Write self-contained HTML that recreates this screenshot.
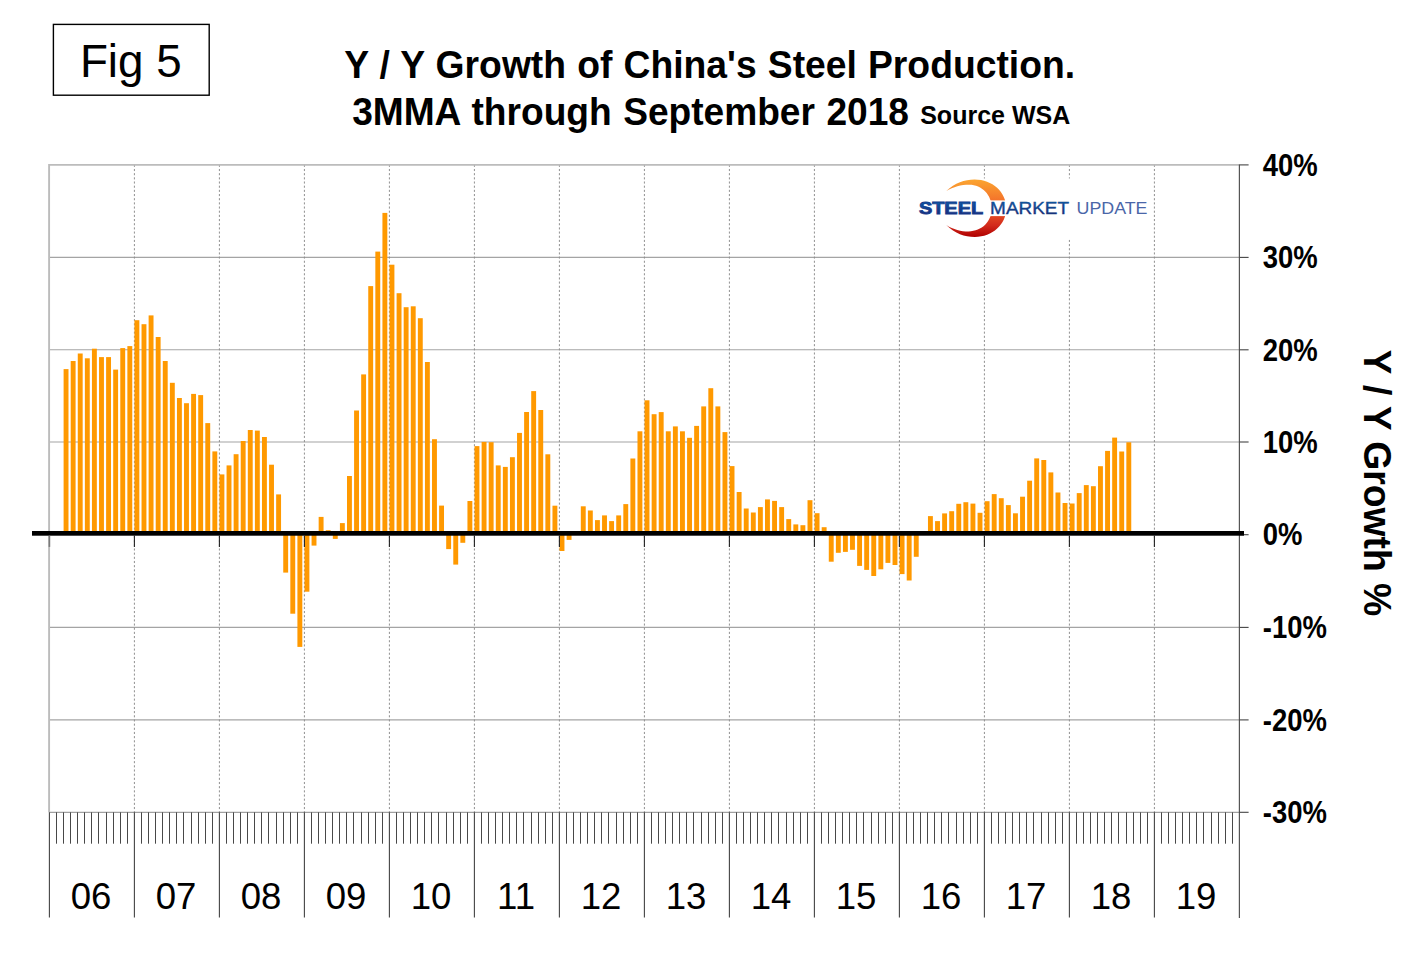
<!DOCTYPE html>
<html lang="en"><head><meta charset="utf-8"><title>Fig 5 - Y / Y Growth of China's Steel Production</title>
<style>html,body{margin:0;padding:0;background:#fff}svg{display:block}text{font-family:"Liberation Sans", Arial, sans-serif}</style></head><body>
<svg width="1420" height="973" viewBox="0 0 1420 973">
<defs><linearGradient id="sw" x1="0" y1="0" x2="0" y2="1"><stop offset="0" stop-color="#fba530"/><stop offset="0.45" stop-color="#f2672a"/><stop offset="0.8" stop-color="#d22a1c"/><stop offset="1" stop-color="#b00000"/></linearGradient>
<linearGradient id="tb" x1="0" y1="0" x2="0" y2="1"><stop offset="0" stop-color="#0a62b0"/><stop offset="1" stop-color="#1b1f6e"/></linearGradient></defs>
<rect width="1420" height="973" fill="#fff"/>
<g stroke="#a4a4a4" stroke-width="1.1">
<line x1="49.4" x2="1239.4" y1="257.40" y2="257.40"/>
<line x1="49.4" x2="1239.4" y1="349.80" y2="349.80"/>
<line x1="49.4" x2="1239.4" y1="442.00" y2="442.00"/>
<line x1="49.4" x2="1239.4" y1="627.40" y2="627.40"/>
<line x1="49.4" x2="1239.4" y1="719.90" y2="719.90"/>
</g>
<line x1="49.4" x2="1239.4" y1="812.30" y2="812.30" stroke="#a0a0a0" stroke-width="1.2"/>
<g stroke="#909090" stroke-width="1" stroke-dasharray="2.1 2.07">
<line x1="134.4" x2="134.4" y1="164.8" y2="812.3"/>
<line x1="219.4" x2="219.4" y1="164.8" y2="812.3"/>
<line x1="304.4" x2="304.4" y1="164.8" y2="812.3"/>
<line x1="389.4" x2="389.4" y1="164.8" y2="812.3"/>
<line x1="474.4" x2="474.4" y1="164.8" y2="812.3"/>
<line x1="559.4" x2="559.4" y1="164.8" y2="812.3"/>
<line x1="644.4" x2="644.4" y1="164.8" y2="812.3"/>
<line x1="729.4" x2="729.4" y1="164.8" y2="812.3"/>
<line x1="814.4" x2="814.4" y1="164.8" y2="812.3"/>
<line x1="899.4" x2="899.4" y1="164.8" y2="812.3"/>
<line x1="984.4" x2="984.4" y1="164.8" y2="812.3"/>
<line x1="1069.4" x2="1069.4" y1="164.8" y2="812.3"/>
<line x1="1154.4" x2="1154.4" y1="164.8" y2="812.3"/>
</g>
<path d="M49.1 812.3 V164.9 H1239.4" fill="none" stroke="#bcbcbc" stroke-width="1.9"/>
<g id="logo"><rect x="912" y="178.5" width="240" height="61" fill="#fff"/>
<path fill="url(#sw)" d="M946.3 191.1 C955 183 964.5 179.6 974.5 179.6 C992.5 179.6 1006.3 192.3 1006.3 208.2 C1006.3 224.2 992.5 236.9 974.8 236.9 C964.5 236.9 955 233.3 946.3 224.9 C953.5 229.6 961 231.4 968.6 231.4 C982 231.4 991.8 221.5 991.8 208.1 C991.8 194.8 982 184.7 969.2 184.7 C961 184.7 953.5 186.6 946.3 191.1 Z"/>
<rect x="940" y="200.4" width="70" height="15.7" fill="#fff"/>
<text x="918.9" y="214.3" font-size="16" font-weight="bold" fill="url(#tb)" stroke="#143c8c" stroke-width="0.8" textLength="64.2" lengthAdjust="spacingAndGlyphs">STEEL</text>
<text x="990.1" y="214.3" font-size="16" fill="url(#tb)" stroke="#16407f" stroke-width="0.35" textLength="79" lengthAdjust="spacingAndGlyphs">MARKET</text>
<text x="1076.5" y="214.3" font-size="16" fill="#4a66a8" textLength="71" lengthAdjust="spacingAndGlyphs">UPDATE</text></g>
<g fill="#ff9900">
<rect x="63.60" y="369.1" width="4.9" height="164.3"/>
<rect x="70.69" y="361.0" width="4.9" height="172.4"/>
<rect x="77.77" y="353.5" width="4.9" height="179.9"/>
<rect x="84.86" y="358.3" width="4.9" height="175.1"/>
<rect x="91.94" y="348.7" width="4.9" height="184.7"/>
<rect x="99.03" y="357.1" width="4.9" height="176.3"/>
<rect x="106.11" y="357.1" width="4.9" height="176.3"/>
<rect x="113.19" y="369.6" width="4.9" height="163.8"/>
<rect x="120.28" y="348.1" width="4.9" height="185.3"/>
<rect x="127.37" y="346.1" width="4.9" height="187.3"/>
<rect x="134.45" y="320.2" width="4.9" height="213.2"/>
<rect x="141.53" y="324.2" width="4.9" height="209.2"/>
<rect x="148.62" y="315.4" width="4.9" height="218.0"/>
<rect x="155.71" y="337.0" width="4.9" height="196.4"/>
<rect x="162.79" y="361.0" width="4.9" height="172.4"/>
<rect x="169.88" y="382.8" width="4.9" height="150.6"/>
<rect x="176.96" y="398.0" width="4.9" height="135.4"/>
<rect x="184.04" y="403.2" width="4.9" height="130.2"/>
<rect x="191.13" y="393.9" width="4.9" height="139.5"/>
<rect x="198.22" y="395.1" width="4.9" height="138.3"/>
<rect x="205.30" y="423.1" width="4.9" height="110.3"/>
<rect x="212.38" y="451.4" width="4.9" height="82.0"/>
<rect x="219.47" y="474.4" width="4.9" height="59.0"/>
<rect x="226.56" y="465.4" width="4.9" height="68.0"/>
<rect x="233.64" y="454.2" width="4.9" height="79.2"/>
<rect x="240.72" y="441.0" width="4.9" height="92.4"/>
<rect x="247.81" y="430.0" width="4.9" height="103.4"/>
<rect x="254.89" y="430.6" width="4.9" height="102.8"/>
<rect x="261.98" y="437.0" width="4.9" height="96.4"/>
<rect x="269.06" y="464.7" width="4.9" height="68.7"/>
<rect x="276.15" y="494.4" width="4.9" height="39.0"/>
<rect x="283.24" y="533.4" width="4.9" height="39.2"/>
<rect x="290.32" y="533.4" width="4.9" height="80.3"/>
<rect x="297.41" y="533.4" width="4.9" height="113.5"/>
<rect x="304.49" y="533.4" width="4.9" height="58.3"/>
<rect x="311.57" y="533.4" width="4.9" height="12.2"/>
<rect x="318.66" y="516.9" width="4.9" height="16.5"/>
<rect x="325.75" y="530.2" width="4.9" height="3.2"/>
<rect x="332.83" y="533.4" width="4.9" height="5.5"/>
<rect x="339.92" y="523.1" width="4.9" height="10.3"/>
<rect x="347.00" y="476.0" width="4.9" height="57.4"/>
<rect x="354.09" y="410.5" width="4.9" height="122.9"/>
<rect x="361.17" y="374.4" width="4.9" height="159.0"/>
<rect x="368.25" y="286.1" width="4.9" height="247.3"/>
<rect x="375.34" y="251.6" width="4.9" height="281.8"/>
<rect x="382.43" y="212.9" width="4.9" height="320.5"/>
<rect x="389.51" y="264.7" width="4.9" height="268.7"/>
<rect x="396.60" y="293.2" width="4.9" height="240.2"/>
<rect x="403.68" y="307.2" width="4.9" height="226.2"/>
<rect x="410.77" y="306.3" width="4.9" height="227.1"/>
<rect x="417.85" y="318.2" width="4.9" height="215.2"/>
<rect x="424.94" y="362.0" width="4.9" height="171.4"/>
<rect x="432.02" y="439.2" width="4.9" height="94.2"/>
<rect x="439.11" y="505.6" width="4.9" height="27.8"/>
<rect x="446.19" y="533.4" width="4.9" height="15.7"/>
<rect x="453.28" y="533.4" width="4.9" height="31.2"/>
<rect x="460.36" y="533.4" width="4.9" height="9.4"/>
<rect x="467.44" y="501.0" width="4.9" height="32.4"/>
<rect x="474.53" y="446.1" width="4.9" height="87.3"/>
<rect x="481.62" y="441.9" width="4.9" height="91.5"/>
<rect x="488.70" y="442.2" width="4.9" height="91.2"/>
<rect x="495.79" y="465.4" width="4.9" height="68.0"/>
<rect x="502.87" y="466.9" width="4.9" height="66.5"/>
<rect x="509.96" y="457.2" width="4.9" height="76.2"/>
<rect x="517.04" y="432.9" width="4.9" height="100.5"/>
<rect x="524.12" y="412.0" width="4.9" height="121.4"/>
<rect x="531.21" y="391.1" width="4.9" height="142.3"/>
<rect x="538.29" y="410.0" width="4.9" height="123.4"/>
<rect x="545.38" y="454.3" width="4.9" height="79.1"/>
<rect x="552.47" y="505.7" width="4.9" height="27.7"/>
<rect x="559.55" y="533.4" width="4.9" height="17.6"/>
<rect x="566.63" y="533.4" width="4.9" height="6.5"/>
<rect x="580.81" y="506.3" width="4.9" height="27.1"/>
<rect x="587.89" y="510.5" width="4.9" height="22.9"/>
<rect x="594.98" y="520.1" width="4.9" height="13.3"/>
<rect x="602.06" y="515.4" width="4.9" height="18.0"/>
<rect x="609.14" y="521.1" width="4.9" height="12.3"/>
<rect x="616.23" y="515.4" width="4.9" height="18.0"/>
<rect x="623.32" y="504.1" width="4.9" height="29.3"/>
<rect x="630.40" y="458.5" width="4.9" height="74.9"/>
<rect x="637.49" y="431.3" width="4.9" height="102.1"/>
<rect x="644.57" y="400.3" width="4.9" height="133.1"/>
<rect x="651.65" y="414.2" width="4.9" height="119.2"/>
<rect x="658.74" y="412.1" width="4.9" height="121.3"/>
<rect x="665.83" y="431.3" width="4.9" height="102.1"/>
<rect x="672.91" y="426.4" width="4.9" height="107.0"/>
<rect x="680.00" y="431.3" width="4.9" height="102.1"/>
<rect x="687.08" y="437.8" width="4.9" height="95.6"/>
<rect x="694.16" y="425.9" width="4.9" height="107.5"/>
<rect x="701.25" y="406.4" width="4.9" height="127.0"/>
<rect x="708.34" y="388.2" width="4.9" height="145.2"/>
<rect x="715.42" y="406.4" width="4.9" height="127.0"/>
<rect x="722.50" y="432.1" width="4.9" height="101.3"/>
<rect x="729.59" y="466.1" width="4.9" height="67.3"/>
<rect x="736.68" y="492.0" width="4.9" height="41.4"/>
<rect x="743.76" y="508.5" width="4.9" height="24.9"/>
<rect x="750.85" y="512.5" width="4.9" height="20.9"/>
<rect x="757.93" y="507.1" width="4.9" height="26.3"/>
<rect x="765.01" y="499.4" width="4.9" height="34.0"/>
<rect x="772.10" y="500.9" width="4.9" height="32.5"/>
<rect x="779.19" y="507.1" width="4.9" height="26.3"/>
<rect x="786.27" y="519.1" width="4.9" height="14.3"/>
<rect x="793.36" y="524.4" width="4.9" height="9.0"/>
<rect x="800.44" y="525.2" width="4.9" height="8.2"/>
<rect x="807.52" y="500.2" width="4.9" height="33.2"/>
<rect x="814.61" y="513.2" width="4.9" height="20.2"/>
<rect x="821.70" y="527.2" width="4.9" height="6.2"/>
<rect x="828.78" y="533.4" width="4.9" height="28.3"/>
<rect x="835.87" y="533.4" width="4.9" height="19.4"/>
<rect x="842.95" y="533.4" width="4.9" height="18.5"/>
<rect x="850.03" y="533.4" width="4.9" height="16.4"/>
<rect x="857.12" y="533.4" width="4.9" height="32.5"/>
<rect x="864.21" y="533.4" width="4.9" height="36.5"/>
<rect x="871.29" y="533.4" width="4.9" height="42.6"/>
<rect x="878.38" y="533.4" width="4.9" height="35.9"/>
<rect x="885.46" y="533.4" width="4.9" height="29.5"/>
<rect x="892.55" y="533.4" width="4.9" height="31.6"/>
<rect x="899.63" y="533.4" width="4.9" height="40.7"/>
<rect x="906.72" y="533.4" width="4.9" height="47.1"/>
<rect x="913.80" y="533.4" width="4.9" height="23.4"/>
<rect x="927.97" y="516.1" width="4.9" height="17.2"/>
<rect x="935.06" y="521.1" width="4.9" height="12.3"/>
<rect x="942.14" y="513.4" width="4.9" height="20.0"/>
<rect x="949.23" y="511.2" width="4.9" height="22.2"/>
<rect x="956.31" y="503.8" width="4.9" height="29.6"/>
<rect x="963.39" y="502.2" width="4.9" height="31.2"/>
<rect x="970.48" y="503.6" width="4.9" height="29.8"/>
<rect x="977.57" y="512.8" width="4.9" height="20.6"/>
<rect x="984.65" y="501.2" width="4.9" height="32.2"/>
<rect x="991.74" y="494.1" width="4.9" height="39.3"/>
<rect x="998.82" y="498.2" width="4.9" height="35.2"/>
<rect x="1005.90" y="505.1" width="4.9" height="28.3"/>
<rect x="1012.99" y="513.3" width="4.9" height="20.1"/>
<rect x="1020.08" y="496.7" width="4.9" height="36.7"/>
<rect x="1027.16" y="480.7" width="4.9" height="52.7"/>
<rect x="1034.24" y="458.4" width="4.9" height="75.0"/>
<rect x="1041.33" y="460.0" width="4.9" height="73.4"/>
<rect x="1048.41" y="472.4" width="4.9" height="61.0"/>
<rect x="1055.50" y="492.5" width="4.9" height="40.9"/>
<rect x="1062.59" y="503.0" width="4.9" height="30.4"/>
<rect x="1069.67" y="503.5" width="4.9" height="29.9"/>
<rect x="1076.75" y="493.1" width="4.9" height="40.3"/>
<rect x="1083.84" y="485.1" width="4.9" height="48.3"/>
<rect x="1090.92" y="486.2" width="4.9" height="47.2"/>
<rect x="1098.01" y="466.2" width="4.9" height="67.2"/>
<rect x="1105.09" y="450.9" width="4.9" height="82.5"/>
<rect x="1112.18" y="437.6" width="4.9" height="95.8"/>
<rect x="1119.26" y="451.5" width="4.9" height="81.9"/>
<rect x="1126.35" y="442.3" width="4.9" height="91.1"/>
</g>
<line x1="1239.4" x2="1239.4" y1="164.4" y2="918" stroke="#555" stroke-width="1.2"/>
<g stroke="#444" stroke-width="1.1">
<line x1="1239.4" x2="1248.6" y1="164.90" y2="164.90"/>
<line x1="1239.4" x2="1248.6" y1="257.40" y2="257.40"/>
<line x1="1239.4" x2="1248.6" y1="349.80" y2="349.80"/>
<line x1="1239.4" x2="1248.6" y1="442.00" y2="442.00"/>
<line x1="1239.4" x2="1248.6" y1="534.70" y2="534.70"/>
<line x1="1239.4" x2="1248.6" y1="627.40" y2="627.40"/>
<line x1="1239.4" x2="1248.6" y1="719.90" y2="719.90"/>
<line x1="1239.4" x2="1248.6" y1="812.30" y2="812.30"/>
</g>
<g stroke="#484848" stroke-width="1">
<line x1="56.5" x2="56.5" y1="812.3" y2="843.7"/>
<line x1="63.5" x2="63.5" y1="812.3" y2="843.7"/>
<line x1="70.5" x2="70.5" y1="812.3" y2="843.7"/>
<line x1="77.5" x2="77.5" y1="812.3" y2="843.7"/>
<line x1="84.5" x2="84.5" y1="812.3" y2="843.7"/>
<line x1="91.5" x2="91.5" y1="812.3" y2="843.7"/>
<line x1="98.5" x2="98.5" y1="812.3" y2="843.7"/>
<line x1="106.5" x2="106.5" y1="812.3" y2="843.7"/>
<line x1="113.5" x2="113.5" y1="812.3" y2="843.7"/>
<line x1="120.5" x2="120.5" y1="812.3" y2="843.7"/>
<line x1="127.5" x2="127.5" y1="812.3" y2="843.7"/>
<line x1="141.5" x2="141.5" y1="812.3" y2="843.7"/>
<line x1="148.5" x2="148.5" y1="812.3" y2="843.7"/>
<line x1="155.5" x2="155.5" y1="812.3" y2="843.7"/>
<line x1="162.5" x2="162.5" y1="812.3" y2="843.7"/>
<line x1="169.5" x2="169.5" y1="812.3" y2="843.7"/>
<line x1="176.5" x2="176.5" y1="812.3" y2="843.7"/>
<line x1="183.5" x2="183.5" y1="812.3" y2="843.7"/>
<line x1="191.5" x2="191.5" y1="812.3" y2="843.7"/>
<line x1="198.5" x2="198.5" y1="812.3" y2="843.7"/>
<line x1="205.5" x2="205.5" y1="812.3" y2="843.7"/>
<line x1="212.5" x2="212.5" y1="812.3" y2="843.7"/>
<line x1="226.5" x2="226.5" y1="812.3" y2="843.7"/>
<line x1="233.5" x2="233.5" y1="812.3" y2="843.7"/>
<line x1="240.5" x2="240.5" y1="812.3" y2="843.7"/>
<line x1="247.5" x2="247.5" y1="812.3" y2="843.7"/>
<line x1="254.5" x2="254.5" y1="812.3" y2="843.7"/>
<line x1="261.5" x2="261.5" y1="812.3" y2="843.7"/>
<line x1="268.5" x2="268.5" y1="812.3" y2="843.7"/>
<line x1="276.5" x2="276.5" y1="812.3" y2="843.7"/>
<line x1="283.5" x2="283.5" y1="812.3" y2="843.7"/>
<line x1="290.5" x2="290.5" y1="812.3" y2="843.7"/>
<line x1="297.5" x2="297.5" y1="812.3" y2="843.7"/>
<line x1="311.5" x2="311.5" y1="812.3" y2="843.7"/>
<line x1="318.5" x2="318.5" y1="812.3" y2="843.7"/>
<line x1="325.5" x2="325.5" y1="812.3" y2="843.7"/>
<line x1="332.5" x2="332.5" y1="812.3" y2="843.7"/>
<line x1="339.5" x2="339.5" y1="812.3" y2="843.7"/>
<line x1="346.5" x2="346.5" y1="812.3" y2="843.7"/>
<line x1="353.5" x2="353.5" y1="812.3" y2="843.7"/>
<line x1="361.5" x2="361.5" y1="812.3" y2="843.7"/>
<line x1="368.5" x2="368.5" y1="812.3" y2="843.7"/>
<line x1="375.5" x2="375.5" y1="812.3" y2="843.7"/>
<line x1="382.5" x2="382.5" y1="812.3" y2="843.7"/>
<line x1="396.5" x2="396.5" y1="812.3" y2="843.7"/>
<line x1="403.5" x2="403.5" y1="812.3" y2="843.7"/>
<line x1="410.5" x2="410.5" y1="812.3" y2="843.7"/>
<line x1="417.5" x2="417.5" y1="812.3" y2="843.7"/>
<line x1="424.5" x2="424.5" y1="812.3" y2="843.7"/>
<line x1="431.5" x2="431.5" y1="812.3" y2="843.7"/>
<line x1="438.5" x2="438.5" y1="812.3" y2="843.7"/>
<line x1="446.5" x2="446.5" y1="812.3" y2="843.7"/>
<line x1="453.5" x2="453.5" y1="812.3" y2="843.7"/>
<line x1="460.5" x2="460.5" y1="812.3" y2="843.7"/>
<line x1="467.5" x2="467.5" y1="812.3" y2="843.7"/>
<line x1="481.5" x2="481.5" y1="812.3" y2="843.7"/>
<line x1="488.5" x2="488.5" y1="812.3" y2="843.7"/>
<line x1="495.5" x2="495.5" y1="812.3" y2="843.7"/>
<line x1="502.5" x2="502.5" y1="812.3" y2="843.7"/>
<line x1="509.5" x2="509.5" y1="812.3" y2="843.7"/>
<line x1="516.5" x2="516.5" y1="812.3" y2="843.7"/>
<line x1="523.5" x2="523.5" y1="812.3" y2="843.7"/>
<line x1="531.5" x2="531.5" y1="812.3" y2="843.7"/>
<line x1="538.5" x2="538.5" y1="812.3" y2="843.7"/>
<line x1="545.5" x2="545.5" y1="812.3" y2="843.7"/>
<line x1="552.5" x2="552.5" y1="812.3" y2="843.7"/>
<line x1="566.5" x2="566.5" y1="812.3" y2="843.7"/>
<line x1="573.5" x2="573.5" y1="812.3" y2="843.7"/>
<line x1="580.5" x2="580.5" y1="812.3" y2="843.7"/>
<line x1="587.5" x2="587.5" y1="812.3" y2="843.7"/>
<line x1="594.5" x2="594.5" y1="812.3" y2="843.7"/>
<line x1="601.5" x2="601.5" y1="812.3" y2="843.7"/>
<line x1="608.5" x2="608.5" y1="812.3" y2="843.7"/>
<line x1="616.5" x2="616.5" y1="812.3" y2="843.7"/>
<line x1="623.5" x2="623.5" y1="812.3" y2="843.7"/>
<line x1="630.5" x2="630.5" y1="812.3" y2="843.7"/>
<line x1="637.5" x2="637.5" y1="812.3" y2="843.7"/>
<line x1="651.5" x2="651.5" y1="812.3" y2="843.7"/>
<line x1="658.5" x2="658.5" y1="812.3" y2="843.7"/>
<line x1="665.5" x2="665.5" y1="812.3" y2="843.7"/>
<line x1="672.5" x2="672.5" y1="812.3" y2="843.7"/>
<line x1="679.5" x2="679.5" y1="812.3" y2="843.7"/>
<line x1="686.5" x2="686.5" y1="812.3" y2="843.7"/>
<line x1="693.5" x2="693.5" y1="812.3" y2="843.7"/>
<line x1="701.5" x2="701.5" y1="812.3" y2="843.7"/>
<line x1="708.5" x2="708.5" y1="812.3" y2="843.7"/>
<line x1="715.5" x2="715.5" y1="812.3" y2="843.7"/>
<line x1="722.5" x2="722.5" y1="812.3" y2="843.7"/>
<line x1="736.5" x2="736.5" y1="812.3" y2="843.7"/>
<line x1="743.5" x2="743.5" y1="812.3" y2="843.7"/>
<line x1="750.5" x2="750.5" y1="812.3" y2="843.7"/>
<line x1="757.5" x2="757.5" y1="812.3" y2="843.7"/>
<line x1="764.5" x2="764.5" y1="812.3" y2="843.7"/>
<line x1="771.5" x2="771.5" y1="812.3" y2="843.7"/>
<line x1="778.5" x2="778.5" y1="812.3" y2="843.7"/>
<line x1="786.5" x2="786.5" y1="812.3" y2="843.7"/>
<line x1="793.5" x2="793.5" y1="812.3" y2="843.7"/>
<line x1="800.5" x2="800.5" y1="812.3" y2="843.7"/>
<line x1="807.5" x2="807.5" y1="812.3" y2="843.7"/>
<line x1="821.5" x2="821.5" y1="812.3" y2="843.7"/>
<line x1="828.5" x2="828.5" y1="812.3" y2="843.7"/>
<line x1="835.5" x2="835.5" y1="812.3" y2="843.7"/>
<line x1="842.5" x2="842.5" y1="812.3" y2="843.7"/>
<line x1="849.5" x2="849.5" y1="812.3" y2="843.7"/>
<line x1="856.5" x2="856.5" y1="812.3" y2="843.7"/>
<line x1="863.5" x2="863.5" y1="812.3" y2="843.7"/>
<line x1="871.5" x2="871.5" y1="812.3" y2="843.7"/>
<line x1="878.5" x2="878.5" y1="812.3" y2="843.7"/>
<line x1="885.5" x2="885.5" y1="812.3" y2="843.7"/>
<line x1="892.5" x2="892.5" y1="812.3" y2="843.7"/>
<line x1="906.5" x2="906.5" y1="812.3" y2="843.7"/>
<line x1="913.5" x2="913.5" y1="812.3" y2="843.7"/>
<line x1="920.5" x2="920.5" y1="812.3" y2="843.7"/>
<line x1="927.5" x2="927.5" y1="812.3" y2="843.7"/>
<line x1="934.5" x2="934.5" y1="812.3" y2="843.7"/>
<line x1="941.5" x2="941.5" y1="812.3" y2="843.7"/>
<line x1="948.5" x2="948.5" y1="812.3" y2="843.7"/>
<line x1="956.5" x2="956.5" y1="812.3" y2="843.7"/>
<line x1="963.5" x2="963.5" y1="812.3" y2="843.7"/>
<line x1="970.5" x2="970.5" y1="812.3" y2="843.7"/>
<line x1="977.5" x2="977.5" y1="812.3" y2="843.7"/>
<line x1="991.5" x2="991.5" y1="812.3" y2="843.7"/>
<line x1="998.5" x2="998.5" y1="812.3" y2="843.7"/>
<line x1="1005.5" x2="1005.5" y1="812.3" y2="843.7"/>
<line x1="1012.5" x2="1012.5" y1="812.3" y2="843.7"/>
<line x1="1019.5" x2="1019.5" y1="812.3" y2="843.7"/>
<line x1="1026.5" x2="1026.5" y1="812.3" y2="843.7"/>
<line x1="1033.5" x2="1033.5" y1="812.3" y2="843.7"/>
<line x1="1041.5" x2="1041.5" y1="812.3" y2="843.7"/>
<line x1="1048.5" x2="1048.5" y1="812.3" y2="843.7"/>
<line x1="1055.5" x2="1055.5" y1="812.3" y2="843.7"/>
<line x1="1062.5" x2="1062.5" y1="812.3" y2="843.7"/>
<line x1="1076.5" x2="1076.5" y1="812.3" y2="843.7"/>
<line x1="1083.5" x2="1083.5" y1="812.3" y2="843.7"/>
<line x1="1090.5" x2="1090.5" y1="812.3" y2="843.7"/>
<line x1="1097.5" x2="1097.5" y1="812.3" y2="843.7"/>
<line x1="1104.5" x2="1104.5" y1="812.3" y2="843.7"/>
<line x1="1111.5" x2="1111.5" y1="812.3" y2="843.7"/>
<line x1="1118.5" x2="1118.5" y1="812.3" y2="843.7"/>
<line x1="1126.5" x2="1126.5" y1="812.3" y2="843.7"/>
<line x1="1133.5" x2="1133.5" y1="812.3" y2="843.7"/>
<line x1="1140.5" x2="1140.5" y1="812.3" y2="843.7"/>
<line x1="1147.5" x2="1147.5" y1="812.3" y2="843.7"/>
<line x1="1161.5" x2="1161.5" y1="812.3" y2="843.7"/>
<line x1="1168.5" x2="1168.5" y1="812.3" y2="843.7"/>
<line x1="1175.5" x2="1175.5" y1="812.3" y2="843.7"/>
<line x1="1182.5" x2="1182.5" y1="812.3" y2="843.7"/>
<line x1="1189.5" x2="1189.5" y1="812.3" y2="843.7"/>
<line x1="1196.5" x2="1196.5" y1="812.3" y2="843.7"/>
<line x1="1203.5" x2="1203.5" y1="812.3" y2="843.7"/>
<line x1="1211.5" x2="1211.5" y1="812.3" y2="843.7"/>
<line x1="1218.5" x2="1218.5" y1="812.3" y2="843.7"/>
<line x1="1225.5" x2="1225.5" y1="812.3" y2="843.7"/>
<line x1="1232.5" x2="1232.5" y1="812.3" y2="843.7"/>
</g>
<g stroke="#444" stroke-width="1.1">
<line x1="49.4" x2="49.4" y1="812.3" y2="917.5"/>
<line x1="134.4" x2="134.4" y1="812.3" y2="917.5"/>
<line x1="219.4" x2="219.4" y1="812.3" y2="917.5"/>
<line x1="304.4" x2="304.4" y1="812.3" y2="917.5"/>
<line x1="389.4" x2="389.4" y1="812.3" y2="917.5"/>
<line x1="474.4" x2="474.4" y1="812.3" y2="917.5"/>
<line x1="559.4" x2="559.4" y1="812.3" y2="917.5"/>
<line x1="644.4" x2="644.4" y1="812.3" y2="917.5"/>
<line x1="729.4" x2="729.4" y1="812.3" y2="917.5"/>
<line x1="814.4" x2="814.4" y1="812.3" y2="917.5"/>
<line x1="899.4" x2="899.4" y1="812.3" y2="917.5"/>
<line x1="984.4" x2="984.4" y1="812.3" y2="917.5"/>
<line x1="1069.4" x2="1069.4" y1="812.3" y2="917.5"/>
<line x1="1154.4" x2="1154.4" y1="812.3" y2="917.5"/>
</g>
<rect x="32" y="531" width="1212" height="4.7" fill="#000"/>
<g stroke="#222" stroke-width="1.1">
<line x1="49.4" x2="49.4" y1="535.5" y2="546.9" stroke="#7a7a7a" stroke-width="1.6"/>
<line x1="134.4" x2="134.4" y1="535.5" y2="546.9"/>
<line x1="219.4" x2="219.4" y1="535.5" y2="546.9"/>
<line x1="304.4" x2="304.4" y1="535.5" y2="546.9"/>
<line x1="389.4" x2="389.4" y1="535.5" y2="546.9"/>
<line x1="474.4" x2="474.4" y1="535.5" y2="546.9"/>
<line x1="559.4" x2="559.4" y1="535.5" y2="546.9"/>
<line x1="644.4" x2="644.4" y1="535.5" y2="546.9"/>
<line x1="729.4" x2="729.4" y1="535.5" y2="546.9"/>
<line x1="814.4" x2="814.4" y1="535.5" y2="546.9"/>
<line x1="899.4" x2="899.4" y1="535.5" y2="546.9"/>
<line x1="984.4" x2="984.4" y1="535.5" y2="546.9"/>
<line x1="1069.4" x2="1069.4" y1="535.5" y2="546.9"/>
<line x1="1154.4" x2="1154.4" y1="535.5" y2="546.9"/>
</g>
<g font-size="31.2" font-weight="bold" fill="#000">
<text transform="translate(1262.8 175.6) scale(0.88 1)">40%</text>
<text transform="translate(1262.8 268.1) scale(0.88 1)">30%</text>
<text transform="translate(1262.8 360.5) scale(0.88 1)">20%</text>
<text transform="translate(1262.8 452.7) scale(0.88 1)">10%</text>
<text transform="translate(1262.8 545.4) scale(0.88 1)">0%</text>
<text transform="translate(1262.8 638.1) scale(0.88 1)">-10%</text>
<text transform="translate(1262.8 730.6) scale(0.88 1)">-20%</text>
<text transform="translate(1262.8 823.0) scale(0.88 1)">-30%</text>
</g>
<g font-size="36.6" fill="#000" text-anchor="middle">
<text x="91.1" y="909">06</text>
<text x="176.1" y="909">07</text>
<text x="261.1" y="909">08</text>
<text x="346.1" y="909">09</text>
<text x="431.1" y="909">10</text>
<text x="516.1" y="909">11</text>
<text x="601.1" y="909">12</text>
<text x="686.1" y="909">13</text>
<text x="771.1" y="909">14</text>
<text x="856.1" y="909">15</text>
<text x="941.1" y="909">16</text>
<text x="1026.1" y="909">17</text>
<text x="1111.1" y="909">18</text>
<text x="1196.1" y="909">19</text>
</g>
<g transform="translate(1364.2 349.6) rotate(90) scale(0.972 1)"><text x="0" y="0" font-size="38.4" font-weight="bold" fill="#000" word-spacing="0.8">Y / Y Growth %</text></g>
<g transform="translate(709.6 77.9) scale(0.98145 1)"><text x="0" y="0" text-anchor="middle" font-size="38" font-weight="bold" fill="#000" word-spacing="0.8">Y / Y Growth of China's Steel Production.</text></g>
<g transform="translate(353.3 124.5) scale(0.97716 1)"><text x="-1.2" y="0" font-size="38" font-weight="bold" fill="#000" word-spacing="1.2">3MMA through September 2018</text></g>
<text x="920.2" y="124.4" font-size="25" font-weight="bold" fill="#000">Source WSA</text>
<rect x="53.4" y="24.4" width="155.8" height="70.8" fill="#fff" stroke="#000" stroke-width="1.4"/>
<text x="130.8" y="76.9" text-anchor="middle" font-size="45.8" fill="#000">Fig 5</text>
</svg></body></html>
